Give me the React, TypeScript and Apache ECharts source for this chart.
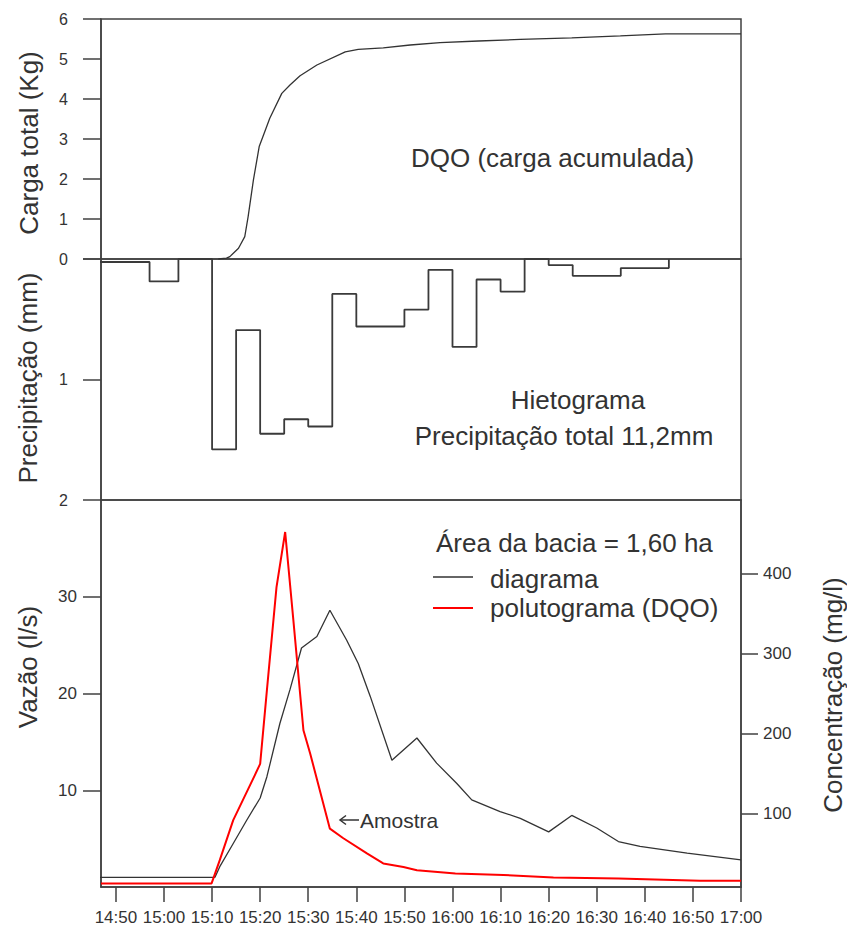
import React, { useEffect, useRef } from 'react';
import * as echarts from 'echarts';

// time in minutes after 14:00
const xMin = 46.9;
const xMax = 180;
const timeTicks = [50, 60, 70, 80, 90, 100, 110, 120, 130, 140, 150, 160, 170, 180];

const cargaTicks = [0, 1, 2, 3, 4, 5, 6];
const precipTicks = [0, 1, 2];
const vazaoTicks = [10, 20, 30];
const concTicks = [100, 200, 300, 400];

// DQO accumulated load (Kg)
const cargaTempo = [71.3, 73.0, 73.7, 75.5, 76.8, 77.5, 78.6, 79.8, 80.7, 82.0, 84.5, 86.2, 88.3, 91.8, 97.7, 100.4, 105.6, 111.2, 117.4, 125.4, 134.1, 144.8, 154.9, 164.3, 180];
const cargaValor = [0, 0.02, 0.06, 0.27, 0.56, 1.06, 1.98, 2.81, 3.1, 3.52, 4.14, 4.35, 4.58, 4.85, 5.18, 5.24, 5.28, 5.35, 5.41, 5.45, 5.49, 5.53, 5.58, 5.63, 5.63];

// Hietograma (mm), start of each interval
const chuvaInicio = [46, 57, 63, 70, 75, 80, 85, 90, 95, 100, 110, 115, 120, 125, 130, 135, 140, 145, 155, 165];
const chuvaValor = [0.025, 0.186, 0, 1.58, 0.59, 1.45, 1.33, 1.39, 0.29, 0.56, 0.42, 0.09, 0.73, 0.17, 0.27, 0, 0.05, 0.14, 0.075, 0];

// Vazão (l/s)
const vazaoTempo = [46.5, 70.6, 71.6, 74.4, 77.2, 80.0, 81.4, 84.1, 86.2, 88.6, 91.8, 94.5, 98.0, 100.4, 102.9, 107.4, 112.6, 116.7, 120.9, 124.0, 129.9, 134.1, 140.0, 144.8, 150.0, 154.5, 159.0, 168.8, 180];
const vazaoValor = [1.0, 1.0, 2.1, 4.5, 6.9, 9.2, 11.4, 16.9, 20.4, 24.7, 25.9, 28.6, 25.5, 23.1, 19.7, 13.1, 15.4, 12.8, 10.7, 9.0, 7.8, 7.1, 5.7, 7.4, 6.1, 4.7, 4.2, 3.5, 2.8];

// Polutograma DQO (mg/l)
const dqoTempo = [46.9, 69.9, 71.6, 74.4, 78.9, 80.0, 81.4, 83.4, 85.2, 86.9, 89.0, 90.4, 94.5, 97.3, 102.2, 105.6, 109.8, 112.6, 120.6, 130.6, 141.0, 154.5, 171.5, 180];
const dqoValor = [12.5, 12.5, 41.6, 91.6, 148, 162, 254, 383, 452, 342, 204, 175, 81, 69, 50, 37.5, 33, 29, 25, 23, 20, 18.7, 15.7, 15.7];

const zip = (a: number[], b: number[]) => a.map((v, i) => [v, b[i]]);

const FONT = "'Liberation Sans', Arial, sans-serif";
const TXT = '#333333';
const AX = '#404040';

const fmtTime = (v: number) => {
  const h = 14 + Math.floor(v / 60);
  const m = Math.round(v % 60);
  return `${h}:${String(m).padStart(2, '0')}`;
};

export default function App() {
  const ref = useRef<HTMLDivElement>(null);

  useEffect(() => {
    if (!ref.current) return;
    const chart = echarts.init(ref.current, undefined, { renderer: 'svg' });

    const gridBase = { left: 101, width: 640, show: true, borderColor: AX, borderWidth: 1.5, containLabel: false };
    const axisLine = { show: true, lineStyle: { color: AX, width: 1.5 } };

    const option: any = {
      animation: false,
      backgroundColor: '#ffffff',
      textStyle: { fontFamily: FONT, color: TXT },
      grid: [
        { ...gridBase, top: 19, height: 240 },
        { ...gridBase, top: 259, height: 241 },
        { ...gridBase, top: 500, height: 387 },
      ],
      xAxis: [
        { type: 'value', gridIndex: 0, min: xMin, max: xMax, show: false },
        { type: 'value', gridIndex: 1, min: xMin, max: xMax, show: false },
        {
          type: 'value', gridIndex: 2, min: xMin, max: xMax,
          axisLine,
          splitLine: { show: false },
          axisTick: { show: true, length: 15, customValues: timeTicks, lineStyle: { color: AX, width: 1.5 } },
          axisLabel: { customValues: timeTicks, formatter: fmtTime, margin: 22, fontSize: 17, color: TXT, fontFamily: FONT },
        },
      ],
      yAxis: [
        {
          type: 'value', gridIndex: 0, min: 0, max: 6,
          axisLine, splitLine: { show: false },
          axisTick: { show: true, length: 18, customValues: cargaTicks, lineStyle: { color: AX, width: 1.5 } },
          axisLabel: { customValues: cargaTicks, margin: 33, fontSize: 16, color: TXT, fontFamily: FONT },
        },
        {
          type: 'value', gridIndex: 1, min: 0, max: 2, inverse: true,
          axisLine, splitLine: { show: false },
          axisTick: { show: true, length: 18, customValues: precipTicks, lineStyle: { color: AX, width: 1.5 } },
          axisLabel: { customValues: [1, 2], margin: 33, fontSize: 16, color: TXT, fontFamily: FONT },
        },
        {
          type: 'value', gridIndex: 2, min: 0, max: 40,
          axisLine, splitLine: { show: false },
          axisTick: { show: true, length: 18, customValues: vazaoTicks, lineStyle: { color: AX, width: 1.5 } },
          axisLabel: { customValues: vazaoTicks, margin: 24, fontSize: 17, color: TXT, fontFamily: FONT },
        },
        {
          type: 'value', gridIndex: 2, position: 'right', min: 8, max: 492,
          axisLine, splitLine: { show: false },
          axisTick: { show: true, length: 17, customValues: concTicks, lineStyle: { color: AX, width: 1.5 } },
          axisLabel: { customValues: concTicks, margin: 22, fontSize: 17, color: TXT, fontFamily: FONT },
        },
      ],
      series: [
        {
          name: 'DQO (carga acumulada)', type: 'line', xAxisIndex: 0, yAxisIndex: 0,
          data: zip(cargaTempo, cargaValor), symbol: 'none', showSymbol: false,
          lineStyle: { color: '#333333', width: 1.3 },
        },
        {
          name: 'Hietograma', type: 'line', xAxisIndex: 1, yAxisIndex: 1, step: 'end', clip: false,
          data: zip(chuvaInicio, chuvaValor), symbol: 'none', showSymbol: false,
          lineStyle: { color: '#3a3a3a', width: 1.8 },
        },
        {
          name: 'diagrama', type: 'line', xAxisIndex: 2, yAxisIndex: 2, clip: false,
          data: zip(vazaoTempo, vazaoValor), symbol: 'none', showSymbol: false,
          lineStyle: { color: '#333333', width: 1.3 },
        },
        {
          name: 'polutograma (DQO)', type: 'line', xAxisIndex: 2, yAxisIndex: 3,
          data: zip(dqoTempo, dqoValor), symbol: 'none', showSymbol: false,
          lineStyle: { color: '#ff0000', width: 2 },
        },
      ],
      graphic: [
        { type: 'text', x: 29, y: 143, rotation: Math.PI / 2, style: { text: 'Carga total (Kg)', font: `26px ${FONT}`, fill: TXT, textAlign: 'center', textVerticalAlign: 'middle' } },
        { type: 'text', x: 28, y: 378, rotation: Math.PI / 2, style: { text: 'Precipitação (mm)', font: `26px ${FONT}`, fill: TXT, textAlign: 'center', textVerticalAlign: 'middle' } },
        { type: 'text', x: 28, y: 667, rotation: Math.PI / 2, style: { text: 'Vazão (l/s)', font: `26px ${FONT}`, fill: TXT, textAlign: 'center', textVerticalAlign: 'middle' } },
        { type: 'text', x: 833, y: 695, rotation: Math.PI / 2, style: { text: 'Concentração (mg/l)', font: `26px ${FONT}`, fill: TXT, textAlign: 'center', textVerticalAlign: 'middle' } },
        { type: 'text', x: 411, y: 158, style: { text: 'DQO (carga acumulada)', font: `26px ${FONT}`, fill: TXT, textAlign: 'left', textVerticalAlign: 'middle' } },
        { type: 'text', x: 578, y: 400, style: { text: 'Hietograma', font: `26px ${FONT}`, fill: TXT, textAlign: 'center', textVerticalAlign: 'middle' } },
        { type: 'text', x: 564, y: 436, style: { text: 'Precipitação total 11,2mm', font: `26px ${FONT}`, fill: TXT, textAlign: 'center', textVerticalAlign: 'middle' } },
        { type: 'text', x: 436, y: 543, style: { text: 'Área da bacia = 1,60 ha', font: `26px ${FONT}`, fill: TXT, textAlign: 'left', textVerticalAlign: 'middle' } },
        { type: 'line', shape: { x1: 433, y1: 577, x2: 473, y2: 577 }, style: { stroke: '#333333', lineWidth: 1.5 } },
        { type: 'text', x: 490, y: 579, style: { text: 'diagrama', font: `26px ${FONT}`, fill: TXT, textAlign: 'left', textVerticalAlign: 'middle' } },
        { type: 'line', shape: { x1: 433, y1: 608, x2: 473, y2: 608 }, style: { stroke: '#ff0000', lineWidth: 2 } },
        { type: 'text', x: 490, y: 608, style: { text: 'polutograma (DQO)', font: `26px ${FONT}`, fill: TXT, textAlign: 'left', textVerticalAlign: 'middle' } },
        { type: 'line', shape: { x1: 340, y1: 820, x2: 359, y2: 820 }, style: { stroke: TXT, lineWidth: 1.5 } },
        { type: 'polyline', shape: { points: [[346, 815.5], [340, 820], [346, 824.5]] }, style: { stroke: TXT, lineWidth: 1.5, fill: null } },
        { type: 'text', x: 360, y: 820, style: { text: 'Amostra', font: `21px ${FONT}`, fill: TXT, textAlign: 'left', textVerticalAlign: 'middle' } },
      ],
    };

    chart.setOption(option);
    return () => chart.dispose();
  }, []);

  return <div ref={ref} style={{ position: 'fixed', left: 0, top: 0, width: 847, height: 930, background: '#fff' }} />;
}
